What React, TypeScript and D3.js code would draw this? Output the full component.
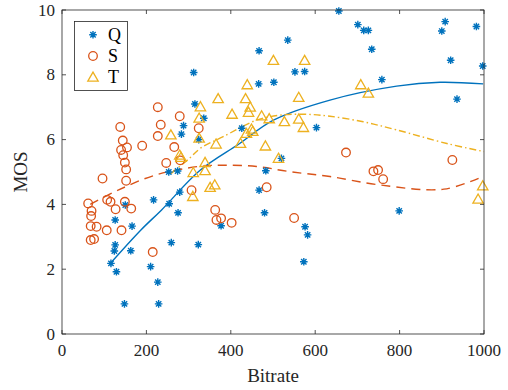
import React from 'react';
import * as d3 from 'd3';

// scatter data
const qBitrate = [126, 166, 126, 124, 163, 116, 129, 210, 259, 323, 227, 148, 229, 275, 315, 288, 283, 253, 274, 279, 217, 254, 150, 312, 336, 535, 467, 552, 575, 466, 502, 656, 426, 603, 324, 520, 483, 467, 480, 377, 576, 582, 573, 701, 715, 726, 908, 900, 982, 734, 921, 997, 758, 936, 799];
const qMos = [3.52, 3.33, 2.75, 2.56, 2.57, 2.18, 1.92, 2.08, 2.82, 2.76, 1.6, 0.93, 0.93, 3.74, 7.1, 6.43, 6.17, 5.0, 5.03, 4.38, 4.14, 4.02, 3.98, 8.07, 6.66, 9.07, 8.74, 8.09, 8.1, 7.72, 7.77, 9.97, 6.35, 6.37, 6.0, 5.42, 5.04, 4.44, 3.74, 3.34, 3.31, 3.06, 2.23, 9.55, 9.37, 9.37, 9.64, 9.35, 9.49, 8.79, 8.45, 8.27, 7.85, 7.25, 3.8];

const sBitrate = [227, 279, 234, 138, 324, 227, 144, 190, 140, 154, 266, 145, 149, 152, 247, 280, 96, 152, 62, 107, 115, 127, 149, 164, 70, 69, 307, 68, 82, 106, 141, 68, 76, 215, 485, 363, 366, 377, 402, 550, 673, 738, 749, 761, 925];
const sMos = [7.0, 6.72, 6.46, 6.39, 6.35, 6.11, 5.97, 5.81, 5.68, 5.76, 5.77, 5.52, 5.29, 5.08, 5.28, 5.36, 4.8, 4.73, 4.03, 4.14, 4.08, 3.85, 4.08, 3.87, 3.8, 3.64, 4.44, 3.33, 3.31, 3.2, 3.2, 2.9, 2.93, 2.53, 4.53, 3.83, 3.52, 3.57, 3.43, 3.58, 5.6, 5.02, 5.06, 4.78, 5.37];

const tBitrate = [328, 325, 258, 325, 279, 282, 311, 310, 501, 575, 439, 370, 435, 561, 446, 442, 403, 473, 491, 527, 561, 572, 449, 437, 452, 365, 423, 482, 513, 339, 339, 351, 362, 708, 726, 997, 986];
const tMos = [7.01, 6.66, 6.14, 6.04, 5.52, 5.45, 4.98, 4.24, 8.44, 8.44, 7.69, 7.26, 7.26, 7.3, 7.0, 6.84, 6.78, 6.73, 6.64, 6.55, 6.63, 6.37, 6.32, 6.19, 6.25, 5.86, 5.88, 5.8, 5.42, 5.29, 5.04, 4.52, 4.6, 7.69, 7.43, 4.57, 4.16];

// fitted curves, points
const qFitX = [116, 187, 236, 328, 421, 501, 635, 793, 896, 998];
const qFitY = [2.2, 3.21, 3.83, 5.06, 5.88, 6.6, 7.22, 7.65, 7.77, 7.72];
const sFitX = [67, 133, 220, 323, 382, 461, 540, 635, 753, 905, 995];
const sFitY = [4.0, 4.44, 4.9, 5.17, 5.21, 5.17, 5.01, 4.86, 4.6, 4.47, 4.85];
const tFitX = [258, 300, 330, 382, 461, 520, 580, 635, 714, 793, 912, 1000];
const tFitY = [4.95, 5.4, 5.75, 6.09, 6.6, 6.76, 6.78, 6.72, 6.55, 6.3, 5.88, 5.63];

const xTicks = [0, 200, 400, 600, 800, 1000];
const yTicks = [0, 2, 4, 6, 8, 10];
const seriesNames = ['Q', 'S', 'T'];

const BLUE = '#0072BD';
const ORANGE = '#D95319';
const YELLOW = '#EDB120';
const AXIS = '#262626';
const FONT = '"Liberation Serif", "Times New Roman", serif';

const left = 62, right = 484, top = 10, bottom = 334;

const x = d3.scaleLinear().domain([0, 1000]).range([left, right]);
const y = d3.scaleLinear().domain([0, 10]).range([bottom, top]);

const line = d3.line<[number, number]>()
  .x(d => x(d[0]))
  .y(d => y(d[1]))
  .curve(d3.curveCatmullRom.alpha(0.5));

const zip = (a: number[], b: number[]) => a.map((v, i) => [v, b[i]] as [number, number]);

const Star = ({ cx, cy }: { cx: number; cy: number }) => {
  const r = 3.8, d = r * 0.707;
  return (
    <path
      d={`M${cx - r},${cy}L${cx + r},${cy}M${cx},${cy - r}L${cx},${cy + r}M${cx - d},${cy - d}L${cx + d},${cy + d}M${cx - d},${cy + d}L${cx + d},${cy - d}`}
      stroke={BLUE}
      strokeWidth={1.4}
    />
  );
};

const Circle = ({ cx, cy }: { cx: number; cy: number }) => (
  <circle cx={cx} cy={cy} r={4.3} fill="none" stroke={ORANGE} strokeWidth={1.3} />
);

const Tri = ({ cx, cy }: { cx: number; cy: number }) => {
  const h = 5.2;
  return (
    <path
      d={`M${cx},${cy - h}L${cx + h},${cy + h * 0.75}L${cx - h},${cy + h * 0.75}Z`}
      fill="none"
      stroke={YELLOW}
      strokeWidth={1.3}
    />
  );
};

export default function App() {
  const markers = [
    (cx: number, cy: number, k: string) => <Star key={k} cx={cx} cy={cy} />,
    (cx: number, cy: number, k: string) => <Circle key={k} cx={cx} cy={cy} />,
    (cx: number, cy: number, k: string) => <Tri key={k} cx={cx} cy={cy} />,
  ];

  return (
    <svg width={508} height={390} style={{ position: 'absolute', left: 0, top: 0, background: '#fff' }} fontFamily={FONT}>
      <rect x={0} y={0} width={508} height={390} fill="#fff" />

      {/* fit lines */}
      <path d={line(zip(qFitX, qFitY)) as string} fill="none" stroke={BLUE} strokeWidth={1.4} />
      <path d={line(zip(sFitX, sFitY)) as string} fill="none" stroke={ORANGE} strokeWidth={1.4} strokeDasharray="9,6" />
      <path d={line(zip(tFitX, tFitY)) as string} fill="none" stroke={YELLOW} strokeWidth={1.4} strokeDasharray="7,3,1.5,3" />

      {/* points */}
      {qBitrate.map((b, i) => markers[0](x(b), y(qMos[i]), 'q' + i))}
      {sBitrate.map((b, i) => markers[1](x(b), y(sMos[i]), 's' + i))}
      {tBitrate.map((b, i) => markers[2](x(b), y(tMos[i]), 't' + i))}

      {/* axes box */}
      <rect x={left} y={top} width={right - left} height={bottom - top} fill="none" stroke={AXIS} strokeWidth={0.8} />
      {xTicks.map(t => (
        <g key={'x' + t}>
          <line x1={x(t)} x2={x(t)} y1={bottom} y2={bottom - 4} stroke={AXIS} strokeWidth={0.8} />
          <line x1={x(t)} x2={x(t)} y1={top} y2={top + 4} stroke={AXIS} strokeWidth={0.8} />
          <text x={x(t)} y={356} textAnchor="middle" fontSize={17} fill={AXIS}>{t}</text>
        </g>
      ))}
      {yTicks.map(t => (
        <g key={'y' + t}>
          <line x1={left} x2={left + 4} y1={y(t)} y2={y(t)} stroke={AXIS} strokeWidth={0.8} />
          <line x1={right} x2={right - 4} y1={y(t)} y2={y(t)} stroke={AXIS} strokeWidth={0.8} />
          <text x={55} y={y(t) + 5.5} textAnchor="end" fontSize={17} fill={AXIS}>{t}</text>
        </g>
      ))}
      <text x={(left + right) / 2} y={382} textAnchor="middle" fontSize={19} fill={AXIS}>Bitrate</text>
      <text transform={`translate(27,${(top + bottom) / 2}) rotate(-90)`} textAnchor="middle" fontSize={19} fill={AXIS}>MOS</text>

      {/* legend */}
      <rect x={74.5} y={21.5} width={53} height={69} fill="#fff" stroke={AXIS} strokeWidth={0.8} />
      {seriesNames.map((n, i) => (
        <g key={n}>
          {markers[i](93, 34.7 + i * 21.3, 'l' + i)}
          <text x={108} y={34.7 + i * 21.3 + 6} fontSize={18} fill="#000">{n}</text>
        </g>
      ))}
    </svg>
  );
}
